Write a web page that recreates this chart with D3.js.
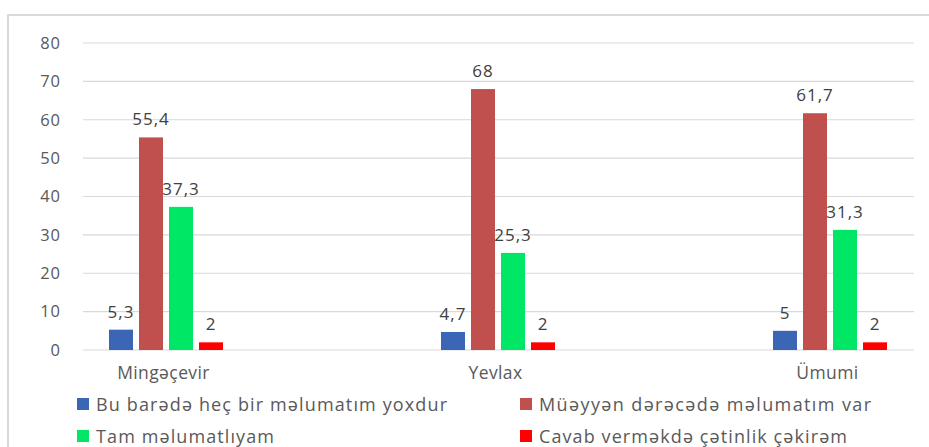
<!DOCTYPE html>
<html>
<head>
  <meta charset="utf-8">
  <style>
    body { margin: 0; background: #fff; }
    text { font-family: "Open Sans", "DejaVu Sans", sans-serif; }
  </style>
</head>
<body>
<script src="https://d3js.org/d3.v7.min.js"></script>
<script>

// categories and series
var categories = ["Mingəçevir", "Yevlax", "Ümumi"];
var seriesNames = [
  "Bu barədə heç bir məlumatım  yoxdur",
  "Müəyyən dərəcədə məlumatım  var",
  "Tam məlumatlıyam",
  "Cavab verməkdə çətinlik  çəkirəm"
];
var seriesColors = ["#3a66b5", "#c0504d", "#00e766", "#ff0000"];

var noInfo    = [5.3, 4.7, 5];
var someInfo  = [55.4, 68, 61.7];
var fullInfo  = [37.3, 25.3, 31.3];
var hardToSay = [2, 2, 2];
var seriesValues = [noInfo, someInfo, fullInfo, hardToSay];

var yTicks = [0, 10, 20, 30, 40, 50, 60, 70, 80];

var width = 929, height = 447;
var svg = d3.select("body").append("svg")
    .attr("width", width)
    .attr("height", height);

// chart frame
svg.append("rect")
    .attr("x", 8).attr("y", 15)
    .attr("width", 960).attr("height", 500)
    .attr("fill", "none")
    .attr("stroke", "#d9d9d9")
    .attr("stroke-width", 2);

var plotLeft = 83, plotRight = 914;
var y = d3.scaleLinear().domain([0, 80]).range([350, 43]);
var x = d3.scalePoint().domain(categories).range([166, 830]);
var inner = d3.scaleBand().domain(d3.range(seriesNames.length))
    .range([-60, 60]).paddingInner(0.2).paddingOuter(0.1);

// gridlines
svg.append("g").selectAll("line")
  .data(yTicks)
  .join("line")
    .attr("x1", plotLeft).attr("x2", plotRight)
    .attr("y1", d => y(d)).attr("y2", d => y(d))
    .attr("stroke", "#d9d9d9")
    .attr("stroke-width", 1.2);

// y axis labels
var yAxis = d3.axisLeft(y).tickValues(yTicks).tickSize(0).tickPadding(0);
var yg = svg.append("g").attr("transform", "translate(61,0)").call(yAxis);
yg.select(".domain").remove();
yg.selectAll("text")
    .attr("font-size", 16.5)
    .attr("letter-spacing", 1)
    .attr("fill", "#595959")
    .style("font-family", "'Open Sans', sans-serif");

// x axis labels
var xAxis = d3.axisBottom(x).tickSize(0).tickPadding(0);
var xg = svg.append("g").attr("transform", "translate(0,367)").call(xAxis);
xg.select(".domain").remove();
xg.selectAll("text")
    .attr("font-size", 17.5)
    .attr("letter-spacing", 0.4)
    .attr("dx", -3)
    .attr("fill", "#595959")
    .style("font-family", "'Open Sans', sans-serif");

// bars
var barData = [];
seriesValues.forEach(function(vals, s) {
  vals.forEach(function(v, c) {
    barData.push({s: s, cat: categories[c], value: v});
  });
});

svg.append("g").selectAll("rect")
  .data(barData)
  .join("rect")
    .attr("x", d => x(d.cat) + inner(d.s))
    .attr("width", inner.bandwidth())
    .attr("y", d => y(d.value))
    .attr("height", d => y(0) - y(d.value))
    .attr("fill", d => seriesColors[d.s]);

// value labels
svg.append("g").selectAll("text")
  .data(barData)
  .join("text")
    .attr("x", d => x(d.cat) + inner(d.s) + inner.bandwidth() / 2)
    .attr("y", d => y(d.value) - 12)
    .attr("text-anchor", "middle")
    .attr("font-size", 17)
    .attr("letter-spacing", 1)
    .attr("fill", "#404040")
    .text(d => String(d.value).replace(".", ","));

// legend
var legendCols = [77, 520], legendRows = [404, 436];
var legendWidths = [351, 332, 178, 308];
var legend = svg.append("g").selectAll("g")
  .data(seriesNames)
  .join("g")
    .attr("transform", (d, i) => "translate(" + legendCols[i % 2] + "," + legendRows[Math.floor(i / 2)] + ")");

legend.append("rect")
    .attr("x", 0).attr("y", -6)
    .attr("width", 12).attr("height", 12)
    .attr("fill", (d, i) => seriesColors[i]);

legend.append("text")
    .attr("x", 19)
    .attr("y", 6.5)
    .attr("font-size", 18)
    .attr("fill", "#595959")
    .attr("textLength", (d, i) => legendWidths[i])
    .attr("lengthAdjust", "spacing")
    .text(d => d);

</script>
</body>
</html>
